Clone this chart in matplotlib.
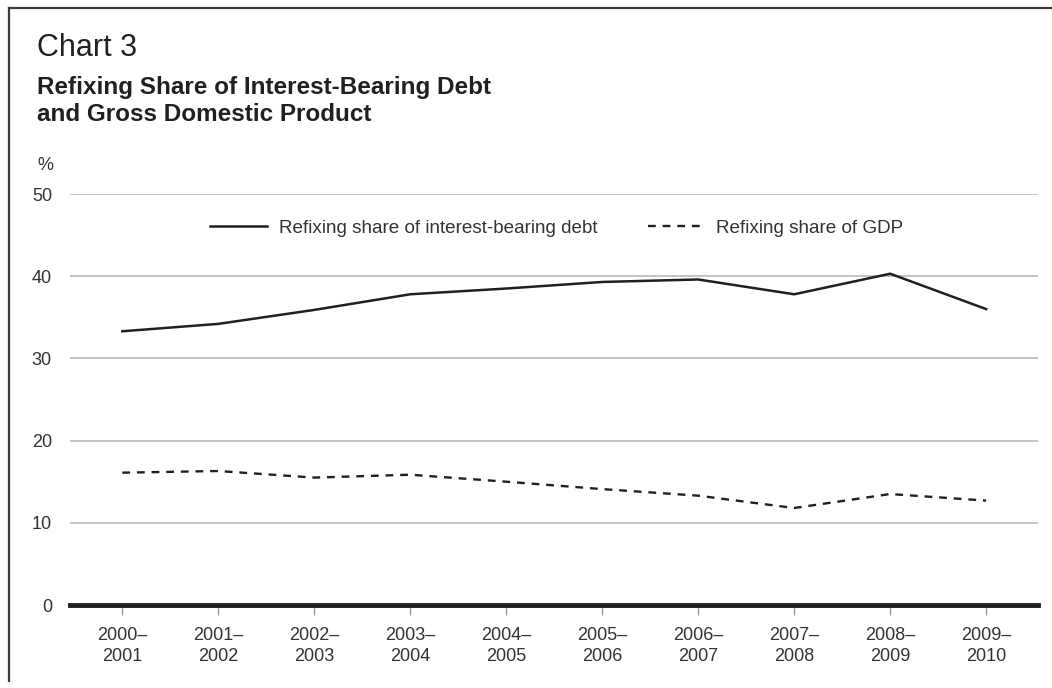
import matplotlib

matplotlib.use("Agg")
import matplotlib.pyplot as plt
from matplotlib.lines import Line2D

# fiscal years on the x axis
periods = [
    "2000–\n2001", "2001–\n2002", "2002–\n2003", "2003–\n2004", "2004–\n2005",
    "2005–\n2006", "2006–\n2007", "2007–\n2008", "2008–\n2009", "2009–\n2010",
]
# refixing share, in per cent
debt_share = [33.3, 34.2, 35.9, 37.8, 38.5, 39.3, 39.6, 37.8, 40.3, 36.0]
gdp_share = [16.1, 16.3, 15.5, 15.85, 15.0, 14.1, 13.3, 11.8, 13.5, 12.7]
y_ticks = [0, 10, 20, 30, 40, 50]

INK = "#231f20"
TEXT = "#333333"
GRID = "#b3b3b3"

plt.rcParams["font.family"] = ["Liberation Sans", "DejaVu Sans"]

W, H = 1052, 688
fig = plt.figure(figsize=(W / 100, H / 100), dpi=100)
ax = fig.add_axes([70 / W, 1 - 605 / H, (1038 - 70) / W, (605 - 194) / H])

x = list(range(len(periods)))
ax.plot(x, debt_share, color=INK, lw=1.8, solid_joinstyle="miter",
        label="Refixing share of interest-bearing debt")
ax.plot(x, gdp_share, color=INK, lw=1.7, linestyle=(0, (3.3, 2.9)),
        label="Refixing share of GDP")

ax.set_xlim(-0.545, 9.54)
ax.set_ylim(0, 50)
ax.set_yticks(y_ticks)
ax.set_xticks(x)
ax.set_xticklabels(periods, fontsize=13, color=TEXT, linespacing=1.3)
ax.tick_params(axis="y", length=0, pad=13, labelsize=13, labelcolor=TEXT)
ax.tick_params(axis="x", length=7, width=1, color="#999999", pad=9)
ax.yaxis.grid(True, color=GRID, lw=1.1)
ax.set_axisbelow(True)
for side in ("top", "right", "left"):
    ax.spines[side].set_visible(False)
ax.spines["bottom"].set_color(INK)
ax.spines["bottom"].set_linewidth(3.5)
ax.spines["bottom"].set_zorder(5)

ax.legend(loc="center", bbox_to_anchor=(0.503, 0.917), ncol=2, frameon=False,
          fontsize=13.6, handlelength=3.0, handletextpad=0.62, columnspacing=2.7,
          labelcolor=TEXT)

# titles and unit label
fig.text(37 / W, 1 - 56 / H, "Chart 3", fontsize=22, color=INK, va="baseline")
fig.text(37 / W, 1 - 94 / H, "Refixing Share of Interest-Bearing Debt",
         fontsize=17.5, fontweight="bold", color=INK, va="baseline")
fig.text(37 / W, 1 - 121 / H, "and Gross Domestic Product",
         fontsize=17.5, fontweight="bold", color=INK, va="baseline")
fig.text(53 / W, 1 - 166 / H, "%", fontsize=13, color=TEXT, ha="right", va="center")

# panel frame, left and top edges
frame = dict(color="#3a3a3a", lw=1.6, transform=fig.transFigure)
fig.add_artist(Line2D([9 / W, 9 / W], [1 - 8 / H, 1 - 681 / H], **frame))
fig.add_artist(Line2D([9 / W, 1.0], [1 - 8 / H, 1 - 8 / H], **frame))

fig.savefig("out.png", dpi=100)
